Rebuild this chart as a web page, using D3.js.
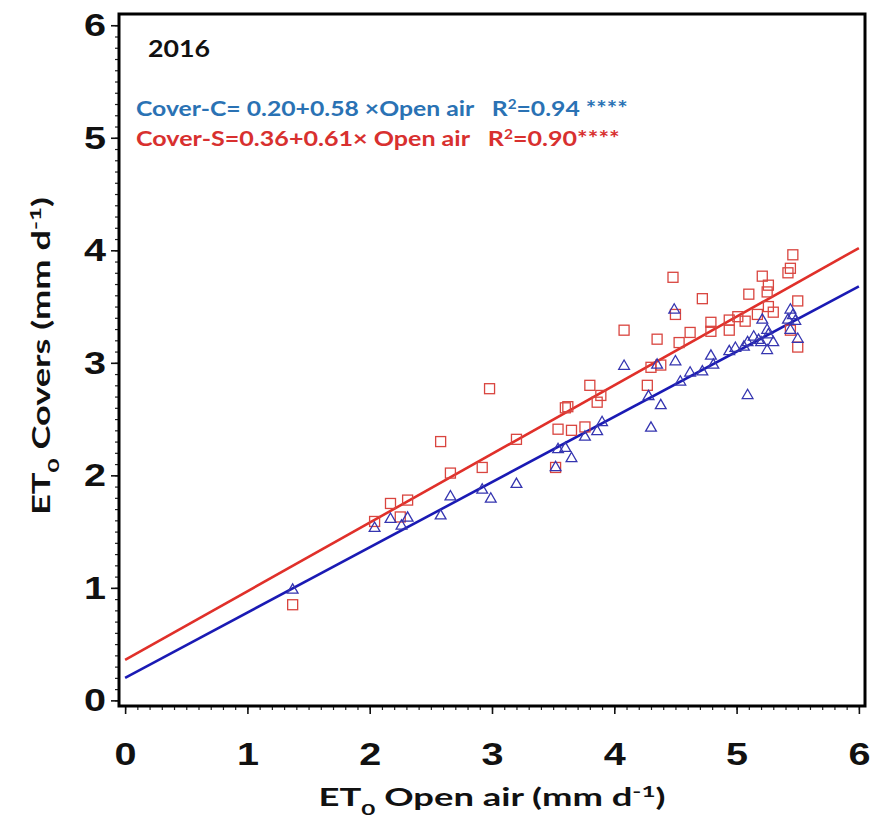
<!DOCTYPE html>
<html>
<head>
<meta charset="utf-8">
<script src="https://cdn.jsdelivr.net/npm/d3@7"></script>
<style>
  body { margin: 0; background: #fff; }
  svg text { font-family: "Lato", "Open Sans", sans-serif; white-space: pre; }
  .tick text { font-family: "Liberation Sans", Arial, sans-serif; font-weight: bold; }
</style>
</head>
<body>
<div id="chart"></div>
<script>
// data (ET0 open air vs ET0 under covers, mm/d)
const coverSOpen = [1.37, 2.04, 2.17, 2.25, 2.31, 2.58, 2.66, 2.92, 2.98, 3.20, 3.52, 3.54, 3.65, 3.76, 3.60, 3.62,
  3.80, 3.89, 3.86, 4.08, 4.27, 4.30, 4.38, 4.35, 4.53, 4.62, 4.48, 4.50, 4.72, 4.79, 4.79, 4.94, 4.94, 5.01,
  5.07, 5.10, 5.17, 5.21, 5.26, 5.25, 5.26, 5.30, 5.42, 5.44, 5.46, 5.50, 5.44, 5.50];
const coverSVal = [0.85, 1.59, 1.75, 1.63, 1.78, 2.30, 2.02, 2.07, 2.77, 2.32, 2.07, 2.41, 2.40, 2.43, 2.60, 2.61,
  2.80, 2.71, 2.65, 3.29, 2.80, 2.96, 2.98, 3.21, 3.18, 3.27, 3.76, 3.43, 3.57, 3.36, 3.28, 3.38, 3.29, 3.41,
  3.37, 3.61, 3.43, 3.77, 3.69, 3.63, 3.50, 3.45, 3.80, 3.84, 3.96, 3.55, 3.29, 3.14];

const coverCOpen = [1.37, 2.04, 2.17, 2.26, 2.31, 2.58, 2.66, 2.92, 2.99, 3.20, 3.52, 3.54, 3.60, 3.65, 3.76, 3.86,
  3.90, 4.08, 4.28, 4.30, 4.38, 4.35, 4.49, 4.50, 4.54, 4.62, 4.72, 4.79, 4.81, 4.94, 4.99, 5.06, 5.09, 5.14,
  5.18, 5.21, 5.25, 5.25, 5.26, 5.30, 5.44, 5.46, 5.48, 5.42, 5.44, 5.50, 5.20, 5.09];
const coverCVal = [0.98, 1.53, 1.61, 1.55, 1.62, 1.64, 1.81, 1.87, 1.79, 1.92, 2.07, 2.23, 2.24, 2.15, 2.34, 2.39,
  2.47, 2.97, 2.70, 2.42, 2.62, 2.98, 3.47, 3.01, 2.83, 2.91, 2.92, 3.06, 2.98, 3.10, 3.13, 3.14, 2.71, 3.23,
  3.20, 3.38, 3.11, 3.29, 3.25, 3.18, 3.47, 3.42, 3.37, 3.38, 3.29, 3.21, 3.18, 3.18];

// regression fits: [intercept, slope]
const fitC = [0.20, 0.58];
const fitS = [0.36, 0.61];
const majorTicks = [0, 1, 2, 3, 4, 5, 6];

// the original uses a wide-ish font, so stretch text horizontally to the width seen there
function stretch(sel, x, y, w, rot) {
  const len = sel.node().getComputedTextLength();
  sel.attr("transform", `translate(${x},${y})${rot ? " rotate(-90)" : ""} scale(${w / len},1)`);
}

function drawChart() {
  const width = 873, height = 820;
  const svg = d3.select("#chart").append("svg")
    .attr("width", width)
    .attr("height", height);

  const x = d3.scaleLinear().domain([-0.05, 6.05]).range([119, 865]);
  const y = d3.scaleLinear().domain([-0.05, 6.1]).range([706, 14]);

  const minor = d3.range(0, 60.5, 1).map(d => d / 10);

  // minor ticks
  svg.append("g")
    .attr("transform", `translate(0,${y.range()[0]})`)
    .call(d3.axisBottom(x).tickValues(minor).tickSize(4).tickFormat(""))
    .call(g => g.select(".domain").remove())
    .selectAll("line").attr("stroke", "#222").attr("stroke-width", 1.2);
  svg.append("g")
    .attr("transform", `translate(${x.range()[0]},0)`)
    .call(d3.axisLeft(y).tickValues(minor).tickSize(4).tickFormat(""))
    .call(g => g.select(".domain").remove())
    .selectAll("line").attr("stroke", "#222").attr("stroke-width", 1.2);

  // major ticks + labels
  const xAxis = svg.append("g")
    .attr("transform", `translate(0,${y.range()[0]})`)
    .call(d3.axisBottom(x).tickValues(majorTicks).tickSize(8).tickPadding(28).tickFormat(d3.format("d")));
  xAxis.select(".domain").remove();
  xAxis.selectAll("line").attr("stroke", "#111").attr("stroke-width", 1.6);
  xAxis.selectAll("text").attr("font-size", 32).attr("fill", "#111")
    .attr("textLength", 22).attr("lengthAdjust", "spacingAndGlyphs");

  const yAxis = svg.append("g")
    .attr("transform", `translate(${x.range()[0]},0)`)
    .call(d3.axisLeft(y).tickValues(majorTicks).tickSize(8).tickPadding(5).tickFormat(d3.format("d")));
  yAxis.select(".domain").remove();
  yAxis.selectAll("line").attr("stroke", "#111").attr("stroke-width", 1.6);
  yAxis.selectAll("text").attr("font-size", 32).attr("fill", "#111")
    .attr("textLength", 22).attr("lengthAdjust", "spacingAndGlyphs");

  // regression lines
  const line = d3.line().x(d => x(d[0])).y(d => y(d[1]));
  [[fitC, "#1a1ab4"], [fitS, "#e0302a"]].forEach(([f, c]) => {
    svg.append("path")
      .attr("d", line([0, 6].map(v => [v, f[0] + f[1] * v])))
      .attr("fill", "none")
      .attr("stroke", c)
      .attr("stroke-width", 2.6);
  });

  // Cover-S squares
  svg.append("g").selectAll("rect")
    .data(d3.zip(coverSOpen, coverSVal))
    .join("rect")
    .attr("x", d => x(d[0]) - 5)
    .attr("y", d => y(d[1]) - 5)
    .attr("width", 10)
    .attr("height", 10)
    .attr("fill", "none")
    .attr("stroke", "#d9453f")
    .attr("stroke-width", 1.3);

  // Cover-C triangles
  const tri = d3.symbol().type(d3.symbolTriangle).size(50);
  svg.append("g").selectAll("path")
    .data(d3.zip(coverCOpen, coverCVal))
    .join("path")
    .attr("d", tri)
    .attr("transform", d => `translate(${x(d[0])},${y(d[1])})`)
    .attr("fill", "none")
    .attr("stroke", "#3535b0")
    .attr("stroke-width", 1.3);

  // frame
  svg.append("rect")
    .attr("x", x.range()[0]).attr("y", y.range()[1])
    .attr("width", x.range()[1] - x.range()[0])
    .attr("height", y.range()[0] - y.range()[1])
    .attr("fill", "none").attr("stroke", "#000").attr("stroke-width", 3);

  // annotations
  const yr = svg.append("text").attr("font-size", 22).attr("font-weight", "bold").attr("fill", "#111").text("2016");
  stretch(yr, 148, 57, 62);

  const blue = svg.append("text").attr("font-size", 21).attr("font-weight", "bold").attr("fill", "#2a72b4");
  blue.append("tspan").text("Cover-C= 0.20+0.58 \u00d7Open air   R");
  blue.append("tspan").attr("baseline-shift", "super").attr("font-size", 13).text("2");
  blue.append("tspan").text("=0.94 ****");
  stretch(blue, 136, 116, 492);

  const red = svg.append("text").attr("font-size", 21).attr("font-weight", "bold").attr("fill", "#d8302f");
  red.append("tspan").text("Cover-S=0.36+0.61\u00d7 Open air   R");
  red.append("tspan").attr("baseline-shift", "super").attr("font-size", 13).text("2");
  red.append("tspan").text("=0.90****");
  stretch(red, 136, 146, 484);

  // axis titles
  const xt = svg.append("text").attr("text-anchor", "middle")
    .attr("font-size", 24).attr("font-weight", "bold").attr("fill", "#111");
  xt.append("tspan").text("ET");
  xt.append("tspan").attr("baseline-shift", "sub").attr("font-size", 16).text("0");
  xt.append("tspan").text(" Open air (mm d");
  xt.append("tspan").attr("baseline-shift", "super").attr("font-size", 16).text("-1");
  xt.append("tspan").text(")");
  stretch(xt, 492, 806, 347);

  const yt = svg.append("text").attr("text-anchor", "middle")
    .attr("font-size", 24).attr("font-weight", "bold").attr("fill", "#111");
  yt.append("tspan").text("ET");
  yt.append("tspan").attr("baseline-shift", "sub").attr("font-size", 16).text("0");
  yt.append("tspan").text(" Covers (mm d");
  yt.append("tspan").attr("baseline-shift", "super").attr("font-size", 16).text("-1");
  yt.append("tspan").text(")");
  stretch(yt, 50, 356, 318, true);
}

document.addEventListener("DOMContentLoaded", drawChart);
</script>
</body>
</html>
